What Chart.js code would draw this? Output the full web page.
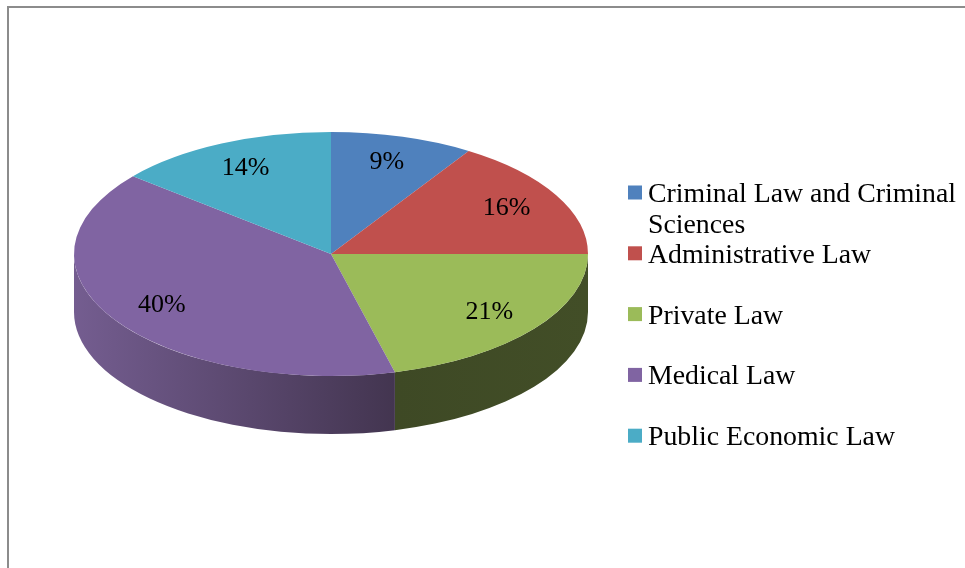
<!DOCTYPE html>
<html>
<head>
<meta charset="utf-8">
<script src="https://cdn.jsdelivr.net/npm/chart.js@4.4.0/dist/chart.umd.min.js"></script>
<style>
  html, body { margin: 0; padding: 0; background: #fff; }
  #wrap { position: relative; width: 965px; height: 568px; overflow: hidden; }
  #frame { position: absolute; left: 7px; top: 6px; width: 2000px; height: 2000px;
           border-left: 2px solid #8c8c8c; border-top: 2px solid #8c8c8c; }
  canvas { position: absolute; left: 0; top: 0; }
</style>
</head>
<body>
<div id="wrap">
  <div id="frame"></div>
  <canvas id="law-pie" width="965" height="568"></canvas>
</div>
<script>
//fields of law - 3d pie
const labelsLaw = [
    'Criminal Law and Criminal Sciences',
    'Administrative Law',
    'Private Law',
    'Medical Law',
    'Public Economic Law'
];
const valuesLaw = [9, 16, 21, 40, 14];
const colorsLaw = ['#4F81BD', '#C0504D', '#9BBB59', '#8064A2', '#4BACC6'];
// side wall shading, left -> right
const sideColorsLaw = [
    ['#3b6494', '#2a4a70'],
    ['#9a3e3b', '#6e2c2a'],
    ['#3e4925', '#424e27'],
    ['#745d90', '#433550'],
    ['#3a8a9f', '#2a6575']
];

const TILT = 122 / 257;   // vertical squash of the top face
const CENTER_Y = 254;     // screen y of the ellipse centre
const DEPTH = 58;         // thickness of the pie
const SERIF = '"Liberation Serif", "Times New Roman", serif';

const pie3d = {
    id: 'pie3d',
    beforeDatasetsDraw(chart) {
        const ctx = chart.ctx;
        const arcs = chart.getDatasetMeta(0).data;
        ctx.save();
        // front walls (only the part facing the viewer, angles 0..PI)
        arcs.forEach((arc, i) => {
            const a1 = Math.max(arc.startAngle, 0);
            const a2 = Math.min(arc.endAngle, Math.PI);
            if (a2 <= a1) return;
            const R = arc.outerRadius, cx = arc.x, ry = R * TILT;
            const g = ctx.createLinearGradient(cx + R * Math.cos(a2), 0, cx + R * Math.cos(a1), 0);
            g.addColorStop(0, sideColorsLaw[i][0]);
            g.addColorStop(1, sideColorsLaw[i][1]);
            ctx.fillStyle = g;
            ctx.beginPath();
            ctx.ellipse(cx, CENTER_Y, R, ry, 0, a1, a2, false);
            ctx.lineTo(cx + R * Math.cos(a2), CENTER_Y + DEPTH + ry * Math.sin(a2));
            ctx.ellipse(cx, CENTER_Y + DEPTH, R, ry, 0, a2, a1, true);
            ctx.closePath();
            ctx.fill();
        });
        // squash the pie that chart.js draws next into an ellipse
        const ey = arcs[0].y;
        ctx.translate(0, CENTER_Y);
        ctx.scale(1, TILT);
        ctx.translate(0, -ey);
    },
    afterDatasetsDraw(chart) {
        const ctx = chart.ctx;
        ctx.restore();
        const arcs = chart.getDatasetMeta(0).data;
        const vals = chart.data.datasets[0].data;
        ctx.save();
        ctx.font = '26px ' + SERIF;
        ctx.fillStyle = '#000';
        ctx.textAlign = 'center';
        ctx.textBaseline = 'middle';
        arcs.forEach((arc, i) => {
            const mid = (arc.startAngle + arc.endAngle) / 2;
            const r = arc.outerRadius * 0.78;
            ctx.fillText(vals[i] + '%', arc.x + r * Math.cos(mid), CENTER_Y + TILT * r * Math.sin(mid));
        });
        ctx.restore();
    }
};

function wrapText(ctx, text, maxWidth) {
    const words = text.split(' ');
    const lines = [];
    let line = '';
    words.forEach(w => {
        const test = line ? line + ' ' + w : w;
        if (line && ctx.measureText(test).width > maxWidth) {
            lines.push(line);
            line = w;
        } else {
            line = test;
        }
    });
    lines.push(line);
    return lines;
}

const sideLegend = {
    id: 'sideLegend',
    afterDraw(chart) {
        const ctx = chart.ctx;
        ctx.save();
        ctx.font = '27.8px ' + SERIF;
        ctx.textAlign = 'left';
        ctx.textBaseline = 'alphabetic';
        chart.data.labels.forEach((label, i) => {
            const cy = 192.5 + i * 60.8;
            ctx.fillStyle = colorsLaw[i];
            ctx.fillRect(628, cy - 7, 14, 14);
            ctx.fillStyle = '#000';
            wrapText(ctx, label, 316).forEach((line, j) => {
                ctx.fillText(line, 648, cy + 9.5 + j * 31);
            });
        });
        ctx.restore();
    }
};

const dataLaw = {
    labels: labelsLaw,
    datasets: [{
        data: valuesLaw,
        backgroundColor: colorsLaw,
        borderWidth: 0,
        hoverOffset: 0
    }]
};
const configLaw = {
    type: 'pie',
    data: dataLaw,
    options: {
        responsive: false,
        animation: false,
        devicePixelRatio: 1,
        events: [],
        layout: { padding: { left: 74, right: 377, top: 27, bottom: 27 } },
        plugins: {
            legend: { display: false },
            tooltip: { enabled: false }
        }
    },
    plugins: [pie3d, sideLegend]
};
const ChartLaw = new Chart(
    document.getElementById('law-pie'),
    configLaw
);
</script>
</body>
</html>
